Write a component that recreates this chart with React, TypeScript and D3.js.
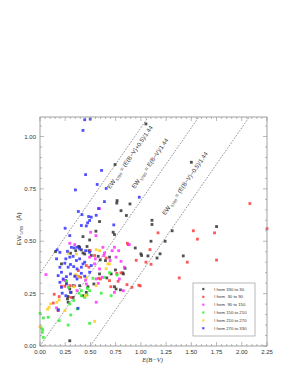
import React from "react";
import * as d3 from "d3";

const xTicks = [0, 0.25, 0.5, 0.75, 1.0, 1.25, 1.5, 1.75, 2.0, 2.25];
const yTicks = [0, 0.25, 0.5, 0.75, 1.0];

const legendLabels = [
  "l from 330 to 30",
  "l from  30 to 90",
  "l from  90 to 150",
  "l from 150 to 210",
  "l from 210 to 270",
  "l from 270 to 330",
];
const seriesColors = ["#333333", "#ff3b3b", "#ff33ff", "#33ee33", "#ffcc22", "#3333ff"];

const black: [number, number][] = [
  [0.744, 0.866], [0.154, 0.451], [0.764, 0.694], [0.761, 0.682], [0.803, 0.646], [0.856, 0.623],
  [0.892, 0.678], [0.59, 0.594], [0.554, 0.548], [0.725, 0.543], [0.738, 0.532], [0.492, 0.506],
  [0.426, 0.522], [0.384, 0.475], [0.393, 0.471], [0.41, 0.459], [0.426, 0.444], [0.443, 0.439],
  [0.466, 0.475], [0.485, 0.455], [0.508, 0.432], [0.354, 0.455], [0.302, 0.443], [0.944, 0.468],
  [1.007, 0.432], [0.597, 0.411], [0.649, 0.408], [0.577, 0.428], [0.689, 0.424], [0.748, 0.363],
  [0.843, 0.371], [0.82, 0.349], [0.662, 0.325], [0.59, 0.344], [0.534, 0.296], [0.475, 0.283],
  [0.393, 0.288], [0.459, 0.256], [0.426, 0.24], [0.328, 0.288], [0.295, 0.272], [0.279, 0.236],
  [0.272, 0.225], [0.328, 0.232], [0.308, 0.256], [0.279, 0.209], [0.738, 0.283], [0.754, 0.272],
  [0.797, 0.268], [0.705, 0.344], [0.295, 0.025], [0.826, 0.344], [0.213, 0.392], [0.256, 0.312],
  [1.05, 1.06], [1.5, 0.877], [1.11, 0.6], [1.11, 0.58], [1.31, 0.55], [1.75, 0.57], [1.24, 0.5],
  [1.1, 0.5], [1.19, 0.44], [1.16, 0.42], [1.07, 0.43], [1.0, 0.44], [1.42, 0.43],
];

const red: [number, number][] = [
  [0.141, 0.247], [0.262, 0.299], [0.213, 0.285], [0.38, 0.333], [0.403, 0.328], [0.459, 0.384],
  [0.656, 0.42], [0.866, 0.49], [0.875, 0.484], [0.954, 0.409], [0.761, 0.346], [0.803, 0.349],
  [0.6, 0.32], [0.58, 0.323], [0.689, 0.312], [0.702, 0.283], [0.774, 0.309], [0.862, 0.293],
  [0.911, 0.28], [0.993, 0.287], [0.344, 0.333], [0.38, 0.36], [0.498, 0.455], [0.308, 0.232],
  [0.131, 0.205], [0.485, 0.376], [0.246, 0.285], [0.19, 0.236], [0.295, 0.288], [0.541, 0.432],
  [0.18, 0.169], [2.08, 0.68], [2.25, 0.56], [1.17, 0.54], [1.52, 0.55], [1.73, 0.54], [1.56, 0.51],
  [1.09, 0.46], [1.05, 0.4], [1.1, 0.39], [1.46, 0.4], [1.75, 0.41], [1.38, 0.325], [0.98, 0.29],
];

const magenta: [number, number][] = [
  [0.059, 0.341], [0.502, 0.543], [0.59, 0.656], [0.554, 0.527], [0.295, 0.49], [0.344, 0.484],
  [0.492, 0.424], [0.548, 0.416], [0.623, 0.471], [0.715, 0.455], [0.633, 0.432], [0.695, 0.408],
  [0.754, 0.424], [0.78, 0.455], [0.885, 0.484], [0.738, 0.471], [0.639, 0.444], [0.836, 0.376],
  [0.803, 0.404], [0.541, 0.392], [0.59, 0.368], [0.616, 0.328], [0.557, 0.32], [0.459, 0.296],
  [0.344, 0.288], [0.367, 0.264], [0.164, 0.182], [0.23, 0.315], [0.577, 0.299], [0.826, 0.264],
  [0.557, 0.209], [0.738, 0.256], [0.452, 0.315], [0.787, 0.32],
];

const green: [number, number][] = [
  [0.0, 0.156], [0.033, 0.134], [0.082, 0.137], [0.023, 0.065], [0.013, 0.086], [0.026, 0.078],
  [0.033, 0.041], [0.184, 0.174], [0.19, 0.121], [0.305, 0.148], [0.279, 0.1], [0.492, 0.108],
  [0.41, 0.264], [0.387, 0.252], [0.37, 0.177], [0.639, 0.328], [0.689, 0.35], [0.705, 0.24],
  [0.607, 0.252], [0.492, 0.264], [0.466, 0.244], [0.41, 0.24], [0.443, 0.232], [0.262, 0.309],
  [0.282, 0.28], [0.334, 0.217], [0.295, 0.201], [0.525, 0.323], [0.469, 0.275], [0.764, 0.339],
];

const yellow: [number, number][] = [
  [0.0, 0.092], [0.075, 0.175], [0.105, 0.201], [0.089, 0.185], [0.19, 0.22], [0.167, 0.209],
  [0.246, 0.169], [0.334, 0.283], [0.354, 0.341], [0.361, 0.439], [0.279, 0.443], [0.557, 0.46],
  [0.59, 0.455], [0.672, 0.392], [0.656, 0.369], [0.689, 0.392], [0.557, 0.288], [0.541, 0.118],
  [0.377, 0.331], [0.452, 0.24], [0.459, 0.328],
];

const blue: [number, number][] = [
  [0.443, 1.08], [0.498, 1.083], [0.426, 1.029], [0.452, 0.818], [0.61, 0.838], [0.351, 0.745],
  [0.567, 0.771], [0.656, 0.752], [0.38, 0.642], [0.416, 0.627], [0.639, 0.689], [0.58, 0.656],
  [0.492, 0.599], [0.482, 0.618], [0.508, 0.615], [0.557, 0.624], [0.472, 0.588], [0.41, 0.575],
  [0.459, 0.573], [0.731, 0.578], [0.249, 0.562], [0.295, 0.527], [0.17, 0.459], [0.197, 0.447],
  [0.164, 0.416], [0.256, 0.416], [0.272, 0.452], [0.311, 0.471], [0.338, 0.468], [0.367, 0.471],
  [0.393, 0.463], [0.452, 0.455], [0.295, 0.424], [0.328, 0.428], [0.361, 0.408], [0.393, 0.416],
  [0.443, 0.4], [0.426, 0.392], [0.246, 0.395], [0.197, 0.376], [0.213, 0.352], [0.279, 0.376],
  [0.302, 0.389], [0.334, 0.379], [0.367, 0.368], [0.41, 0.347], [0.18, 0.336], [0.23, 0.32],
  [0.262, 0.331], [0.197, 0.304], [0.262, 0.296], [0.348, 0.333], [0.302, 0.344], [0.367, 0.32],
  [0.213, 0.28], [0.22, 0.252], [0.256, 0.24], [0.302, 0.256], [0.18, 0.172], [0.377, 0.18],
  [0.492, 0.447], [0.508, 0.384], [0.41, 0.376], [0.443, 0.333], [0.492, 0.352], [0.984, 0.71],
];

const series = [black, red, magenta, green, yellow, blue];

// relation lines: EW = (E(B-V) + offset) / 1.44
const lineOffsets = [0.5, 0, -0.5];
const lineLabelTexts = ["= (E(B\u2212V)+0.5)/1.44", "= E(B\u2212V)/1.44", "= (E(B\u2212V)\u22120.5)/1.44"];
const lineLabelAnchors: [number, number][] = [[0.893, 0.901], [1.091, 0.871], [1.438, 0.776]];

const W = 298, H = 385;
const X0 = 40, X1 = 267, Y0 = 346, Y1 = 117;
const SANS = "'Liberation Sans', Helvetica, Arial, sans-serif";

export default function App() {
  const x = d3.scaleLinear().domain([0, 2.25]).range([X0, X1]);
  const y = d3.scaleLinear().domain([0, 1.093]).range([Y0, Y1]);
  const xMinor = d3.range(0, 2.2501, 0.05);
  const yMinor = d3.range(0, 1.0901, 0.05);
  const axisColor = "#8a8a8a";
  const angle = (Math.atan2(y(1 / 1.44) - y(0), x(1) - x(0)) * 180) / Math.PI;

  const linePath = (off: number) => {
    const pts: [number, number][] = [];
    const xs = d3.range(0, 2.2501, 0.01);
    xs.forEach((v) => {
      const ev = (v + off) / 1.44;
      if (ev >= 0 && ev <= 1.093) pts.push([x(v), y(ev)]);
    });
    return d3.line()(pts) || "";
  };

  return (
    <svg width={W} height={H} style={{ position: "absolute", left: 0, top: 0, background: "#fff" }}>
      <rect x={0} y={0} width={W} height={H} fill="#fff" />
      {lineOffsets.map((o, i) => (
        <path key={i} d={linePath(o)} fill="none" stroke="#444" strokeWidth={0.6} strokeDasharray="1.6,1.4" />
      ))}
      {lineLabelAnchors.map((a, i) => (
        <text
          key={i}
          transform={`translate(${x(a[0])},${y(a[1])}) rotate(${angle})`}
          textAnchor="middle"
          dominantBaseline="central"
          fontFamily={SANS}
          fontSize={6}
          fill="#333"
          style={{ whiteSpace: "pre" }}
        >
          EW
          <tspan fontSize={4} dy={1.6}> 5780</tspan>
          <tspan dy={-1.6}> {lineLabelTexts[i]}</tspan>
        </text>
      ))}
      {series.map((s, si) =>
        s.map((p, pi) => (
          <rect
            key={`${si}-${pi}`}
            x={x(p[0]) - 1.4}
            y={y(p[1]) - 1.4}
            width={2.8}
            height={2.8}
            fill={seriesColors[si]}
            fillOpacity={0.85}
          />
        ))
      )}
      <rect x={X0} y={Y1} width={X1 - X0} height={Y0 - Y1} fill="none" stroke={axisColor} strokeWidth={0.8} />
      {xMinor.map((v, i) => {
        const major = Math.abs(v / 0.25 - Math.round(v / 0.25)) < 1e-6;
        const l = major ? 4 : 2;
        return (
          <g key={i}>
            <line x1={x(v)} x2={x(v)} y1={Y0} y2={Y0 - l} stroke={axisColor} strokeWidth={0.6} />
            <line x1={x(v)} x2={x(v)} y1={Y1} y2={Y1 + l} stroke={axisColor} strokeWidth={0.6} />
          </g>
        );
      })}
      {yMinor.map((v, i) => {
        const major = Math.abs(v / 0.25 - Math.round(v / 0.25)) < 1e-6;
        const l = major ? 4 : 2;
        return (
          <g key={i}>
            <line x1={X0} x2={X0 + l} y1={y(v)} y2={y(v)} stroke={axisColor} strokeWidth={0.6} />
            <line x1={X1} x2={X1 - l} y1={y(v)} y2={y(v)} stroke={axisColor} strokeWidth={0.6} />
          </g>
        );
      })}
      {xTicks.map((v) => (
        <text key={v} x={x(v)} y={Y0 + 7.5} textAnchor="middle" fontFamily={SANS} fontSize={6} fill="#333">
          {v.toFixed(2)}
        </text>
      ))}
      {yTicks.map((v) => (
        <text key={v} x={X0 - 4} y={y(v) + 2.1} textAnchor="end" fontFamily={SANS} fontSize={6} fill="#333">
          {v.toFixed(2)}
        </text>
      ))}
      <text x={(X0 + X1) / 2 - 1} y={Y0 + 16} textAnchor="middle" fontFamily="'Liberation Serif', 'DejaVu Serif', serif" fontStyle="italic" fontSize={6.5} fill="#333">
        E(B{"\u2212"}V)
      </text>
      <text transform={`translate(21,${229}) rotate(-90)`} textAnchor="middle" fontFamily={SANS} fontSize={6.2} fill="#333" style={{ whiteSpace: "pre" }}>
        EW
        <tspan fontSize={3.8} dy={1.6}> 5780</tspan>
        <tspan dy={-1.6}>{"   "}(Å)</tspan>
      </text>
      <rect x={193} y={283} width={62} height={53} fill="#fff" stroke={axisColor} strokeWidth={0.6} />
      {legendLabels.map((lab, i) => (
        <g key={i}>
          <rect x={202.2} y={289 + i * 7.85 - 1.1} width={2.2} height={2.2} fill={seriesColors[i]} fillOpacity={0.85} />
          <text x={214.3} y={289 + i * 7.85 + 1.5} fontFamily={SANS} fontSize={4.3} fill="#333" style={{ whiteSpace: "pre" }}>
            {lab}
          </text>
        </g>
      ))}
    </svg>
  );
}
